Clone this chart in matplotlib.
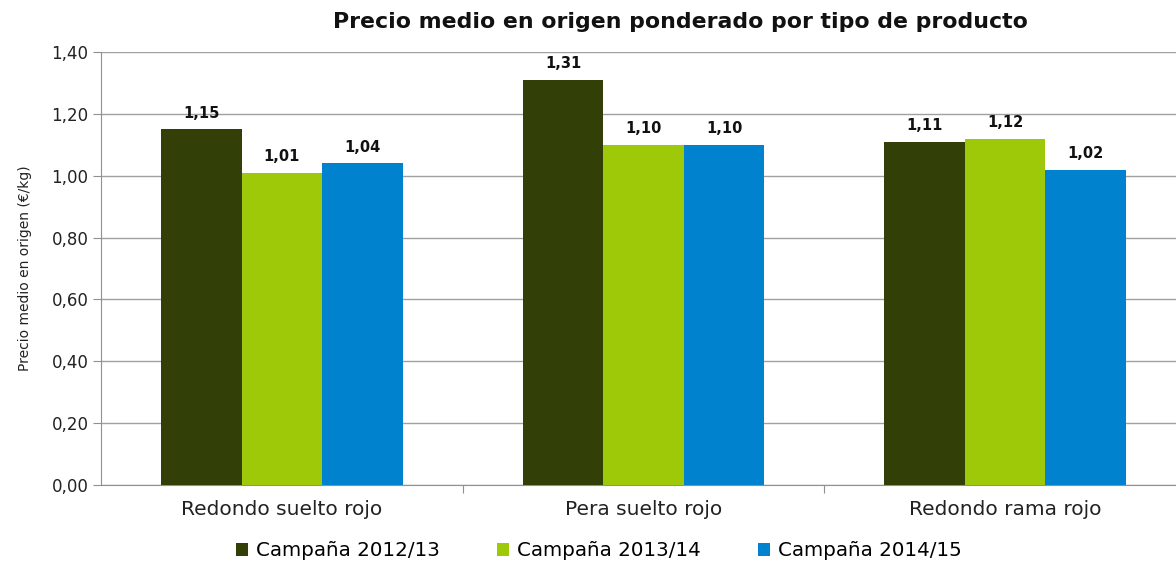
import matplotlib.pyplot as plt
import numpy as np

categories = ["Redondo suelto rojo", "Pera suelto rojo", "Redondo rama rojo"]
series_names = ["Campaña 2012/13", "Campaña 2013/14", "Campaña 2014/15"]
v_2012 = [1.15, 1.31, 1.11]
v_2013 = [1.01, 1.10, 1.12]
v_2014 = [1.04, 1.10, 1.02]
colors = ["#323F07", "#9DC909", "#0082CF"]

plt.rcParams['font.family'] = ['DejaVu Sans']

fig = plt.figure(figsize=(11.76, 5.63), dpi=100)
ax = fig.add_axes([101 / 1176, 78 / 563, 1085 / 1176, 433 / 563])

x = np.arange(len(categories))
w = 0.2227
for i, (vals, name, c) in enumerate(zip([v_2012, v_2013, v_2014], series_names, colors)):
    pos = x + (i - 1) * w
    ax.bar(pos, vals, w, color=c, label=name, zorder=3)
    for p, v in zip(pos, vals):
        ax.text(p, v + 0.027, ("%.2f" % v).replace(".", ","), ha="center", va="bottom",
                fontsize=10.5, fontweight="bold", color="#111111", zorder=4)

ax.set_xlim(-0.5, 2.5)
ax.set_ylim(0, 1.4)
yt = np.arange(0, 1.41, 0.2)
ax.set_yticks(yt)
ax.set_yticklabels([("%.2f" % t).replace(".", ",") for t in yt], fontsize=12, color="#222222")
ax.yaxis.grid(True, color="#A0A0A0", lw=1, zorder=0)
ax.tick_params(axis="y", length=6, color="#909090", pad=3)

ax.set_xticks([0.5, 1.5])
ax.set_xticklabels([])
ax.set_xticks(x, minor=True)
ax.set_xticklabels(categories, minor=True, fontsize=14.5, color="#222222")
ax.tick_params(axis="x", which="major", length=6, color="#909090")
ax.tick_params(axis="x", which="minor", length=0, pad=11)

for s in ["top", "right"]:
    ax.spines[s].set_visible(False)
for s in ["left", "bottom"]:
    ax.spines[s].set_color("#909090")

ax.set_ylabel("Precio medio en origen (€/kg)", fontsize=10, color="#222222", labelpad=14)

fig.text(680 / 1176, 1 - 22 / 563, "Precio medio en origen ponderado por tipo de producto",
         ha="center", va="center", fontsize=15.8, fontweight="bold", color="#111111")

fig.legend(loc="center", bbox_to_anchor=(599 / 1176, 1 - 551 / 563), ncol=3, frameon=False,
           fontsize=14.3, handlelength=0.6, handleheight=0.6, handletextpad=0.4, columnspacing=2.9)

fig.savefig("out.png", dpi=100)
